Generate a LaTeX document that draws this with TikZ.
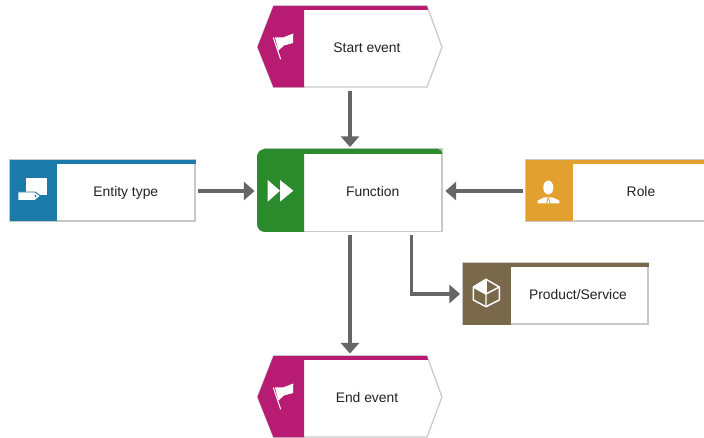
\documentclass[tikz,border=0pt]{standalone}
\usepackage{fontspec}
\setmainfont{Liberation Sans}
\usetikzlibrary{arrows.meta}
\definecolor{evcol}{HTML}{B81B72}
\definecolor{encol}{HTML}{1B7AA8}
\definecolor{fncol}{HTML}{2B8A2B}
\definecolor{rlcol}{HTML}{E2A02E}
\definecolor{pdcol}{HTML}{79694A}
\definecolor{edge}{HTML}{C8C8C8}
\definecolor{connc}{HTML}{666666}
\definecolor{txt}{HTML}{222222}
\tikzset{
  x=0.75pt,y=-0.75pt,
  bodybox/.style={fill=white,draw=edge,line width=0.9pt},
  iconline/.style={draw=white,line width=1.1pt,line join=round},
  textbox/.style={draw=none,inner sep=0pt,outer sep=0pt,text=txt,font=\fontsize{10.4pt}{12pt}\selectfont,
    text height=7.6pt,text depth=0pt,minimum height=#1*0.75pt},
  conn/.style={draw=connc,line width=2.7pt,shorten <=2.4pt,shorten >=2.2pt,
    -{Triangle[length=8pt,width=13.5pt]}},
}
\newcommand{\evshape}[1]{%
  \begin{scope}[shift={(0,#1)}]
    \path[bodybox] (257.5,47)--(273.5,6)--(427,6)--(442,47)--(427,87)--(273.5,87)--cycle;
    \fill[evcol] (257.5,47)--(273.5,6)--(427,6)--(428,10)--(304,10)--(304,87.4)--(273.5,87.4)--cycle;
    \draw[white,line width=0.8pt] (273.3,37.5)--(280.7,59.3);
    \fill[white] (275,37.5)--(283,37.5)--(293.3,33.5)--(293,43)--(284,45.5)--(278.5,50.5)--cycle;
  \end{scope}}
\begin{document}
\begin{tikzpicture}
\useasboundingbox (0,0) rectangle (704,438);
\fill[white] (0,0) rectangle (704,438);

% events
\evshape{0}
\evshape{350}

% entity type
\path[bodybox] (10,160) rectangle (195,221);
\fill[encol] (10,160) rectangle (195.5,164);
\fill[encol] (10,160) rectangle (57,221.5);
\fill[white] (26,178) rectangle (46.7,195);
\fill[white,draw=encol,line width=0.7pt] (18,192)--(35,192)--(40.5,196)--(35,200.5)--(18,200.5)--cycle;
\fill[encol] (35.5,196) circle (1.2);

% function
\path[bodybox] (265,149)--(442,149)--(442,231.5)--(265,231.5)--cycle;
\fill[fncol] (265,149)--(438,149) .. controls (440.5,149) and (442.4,151) .. (442.4,154)
  --(304,154)--(304,232)--(265,232) .. controls (260.5,232) and (257,228.5) .. (257,224)
  --(257,157) .. controls (257,152.5) and (260.5,149) .. (265,149)--cycle;
\fill[white] (267.7,180)--(280,190.7)--(267.7,201.7)--cycle;
\fill[white] (280,180)--(293.3,190.7)--(280,201.7)--cycle;

% role
\path[bodybox] (526,160) rectangle (710,221);
\fill[rlcol] (526,160) rectangle (704,164);
\fill[rlcol] (526,160) rectangle (572.5,221.5);
\fill[white] (548.3,187.5) ellipse (5 and 7);
\fill[white] (537.7,203.5)--(537.7,200.5)--(544,197.5)--(552.5,197.5)--(559.3,200.5)--(559.3,203.5)--cycle;
\draw[rlcol,line width=0.6pt] (546.5,203.5)--(548.3,197.8)--(550.1,203.5);

% product
\path[bodybox] (463,263) rectangle (648,324);
\fill[pdcol] (463,263) rectangle (648.5,267);
\fill[pdcol] (463,263) rectangle (511,325);
\fill[white] (486,279.3)--(486,293.3)--(473.3,287)--cycle;
\draw[iconline] (486,279.3)--(499.3,287)--(499.3,300)--(486,306.7)--(473.3,300)--(473.3,287)--cycle;
\draw[iconline] (486,279.3)--(486,293.3);
\draw[iconline] (473.3,287)--(486,294)--(486,306.7);
\draw[iconline] (486,294)--(499.3,287);

% each node spans its whole shape; the text sits right of the icon
\node[textbox=81,minimum width=138.75pt] (start) at (350,47) {\hspace*{25.5pt}Start event};
\node[textbox=82,minimum width=138.75pt] (func) at (350,191) {\hspace*{34pt}Function};
\node[textbox=61,minimum width=138.75pt] (entity) at (102.5,191) {\hspace*{35pt}Entity type};
\node[textbox=61,minimum width=133.5pt] (role) at (615,191) {\hspace*{39pt}Role};
\node[textbox=61,minimum width=138.75pt] (prod) at (555.5,294) {\hspace*{33.75pt}Product/Service};
\node[textbox=81,minimum width=138.75pt] (endev) at (350,397) {\hspace*{25.5pt}End event};

% connectors
\draw[conn] (start.south) -- (func.north);
\draw[conn] (entity.east) -- (func.west);
\draw[conn] (role.west) -- (func.east);
\draw[conn] (func.south) -- (endev.north);
\draw[conn] ([xshift=46pt]func.south) |- (prod.west);
\end{tikzpicture}
\end{document}
